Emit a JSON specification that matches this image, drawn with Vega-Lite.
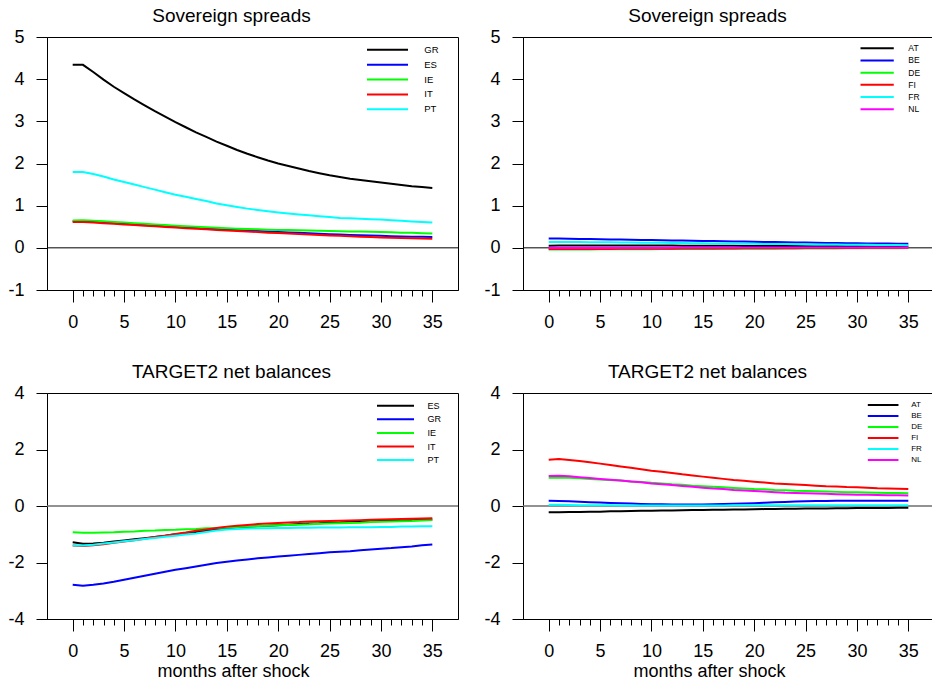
{
  "$schema": "https://vega.github.io/schema/vega-lite/v6.json",
  "background": "white",
  "padding": {"left": 7, "top": 6, "right": 0, "bottom": 0},
  "columns": 2,
  "spacing": {"row": 103, "column": 65},
  "bounds": "flush",
  "resolve": {
    "scale": {"color": "independent", "x": "independent", "y": "independent"},
    "legend": {"color": "independent"}
  },
  "config": {
    "font": "Liberation Sans",
    "view": {"stroke": "#000", "strokeWidth": 1},
    "axis": {
      "labelFont": "Liberation Sans", "labelFontSize": 18, "labelColor": "#000",
      "tickColor": "#000", "domainColor": "#000", "tickWidth": 1, "domainWidth": 1,
      "grid": false, "labelOverlap": false, "labelFlush": false,
      "titleFont": "Liberation Sans", "titleFontSize": 18, "titleFontWeight": "normal", "titleColor": "#000"
    },
    "title": {"font": "Liberation Sans", "fontSize": 19, "fontWeight": "normal", "color": "#000"},
    "legend": {
      "orient": "none", "title": null, "padding": 0,
      "symbolType": "M0,0H16", "symbolStrokeWidth": 2,
      "labelFont": "Liberation Sans", "labelColor": "#000"
    }
  },
  "datasets": {
    "sov_periph": [
      {"m": 0, "GR": 4.34, "ES": 0.63, "IE": 0.65, "IT": 0.61, "PT": 1.80},
      {"m": 1, "GR": 4.34, "ES": 0.635, "IE": 0.655, "IT": 0.615, "PT": 1.80},
      {"m": 2, "GR": 4.17, "ES": 0.62, "IE": 0.645, "IT": 0.60, "PT": 1.75},
      {"m": 3, "GR": 3.99, "ES": 0.605, "IE": 0.63, "IT": 0.585, "PT": 1.69},
      {"m": 4, "GR": 3.82, "ES": 0.59, "IE": 0.615, "IT": 0.57, "PT": 1.62},
      {"m": 5, "GR": 3.67, "ES": 0.575, "IE": 0.60, "IT": 0.555, "PT": 1.56},
      {"m": 6, "GR": 3.52, "ES": 0.56, "IE": 0.585, "IT": 0.54, "PT": 1.50},
      {"m": 7, "GR": 3.38, "ES": 0.545, "IE": 0.57, "IT": 0.525, "PT": 1.44},
      {"m": 8, "GR": 3.24, "ES": 0.53, "IE": 0.555, "IT": 0.51, "PT": 1.38},
      {"m": 9, "GR": 3.11, "ES": 0.515, "IE": 0.54, "IT": 0.495, "PT": 1.32},
      {"m": 10, "GR": 2.98, "ES": 0.50, "IE": 0.525, "IT": 0.48, "PT": 1.26},
      {"m": 11, "GR": 2.86, "ES": 0.49, "IE": 0.51, "IT": 0.465, "PT": 1.21},
      {"m": 12, "GR": 2.74, "ES": 0.475, "IE": 0.50, "IT": 0.45, "PT": 1.16},
      {"m": 13, "GR": 2.63, "ES": 0.46, "IE": 0.49, "IT": 0.44, "PT": 1.11},
      {"m": 14, "GR": 2.52, "ES": 0.45, "IE": 0.475, "IT": 0.425, "PT": 1.05},
      {"m": 15, "GR": 2.42, "ES": 0.435, "IE": 0.465, "IT": 0.41, "PT": 1.01},
      {"m": 16, "GR": 2.32, "ES": 0.425, "IE": 0.455, "IT": 0.40, "PT": 0.97},
      {"m": 17, "GR": 2.23, "ES": 0.41, "IE": 0.445, "IT": 0.385, "PT": 0.93},
      {"m": 18, "GR": 2.15, "ES": 0.40, "IE": 0.44, "IT": 0.375, "PT": 0.90},
      {"m": 19, "GR": 2.07, "ES": 0.385, "IE": 0.43, "IT": 0.36, "PT": 0.87},
      {"m": 20, "GR": 2.00, "ES": 0.375, "IE": 0.425, "IT": 0.35, "PT": 0.84},
      {"m": 21, "GR": 1.94, "ES": 0.365, "IE": 0.42, "IT": 0.34, "PT": 0.815},
      {"m": 22, "GR": 1.88, "ES": 0.355, "IE": 0.415, "IT": 0.33, "PT": 0.79},
      {"m": 23, "GR": 1.82, "ES": 0.345, "IE": 0.41, "IT": 0.315, "PT": 0.77},
      {"m": 24, "GR": 1.77, "ES": 0.335, "IE": 0.405, "IT": 0.305, "PT": 0.75},
      {"m": 25, "GR": 1.72, "ES": 0.325, "IE": 0.40, "IT": 0.295, "PT": 0.73},
      {"m": 26, "GR": 1.68, "ES": 0.315, "IE": 0.395, "IT": 0.285, "PT": 0.71},
      {"m": 27, "GR": 1.64, "ES": 0.305, "IE": 0.39, "IT": 0.275, "PT": 0.70},
      {"m": 28, "GR": 1.61, "ES": 0.30, "IE": 0.385, "IT": 0.265, "PT": 0.69},
      {"m": 29, "GR": 1.58, "ES": 0.29, "IE": 0.38, "IT": 0.255, "PT": 0.68},
      {"m": 30, "GR": 1.55, "ES": 0.285, "IE": 0.375, "IT": 0.245, "PT": 0.67},
      {"m": 31, "GR": 1.52, "ES": 0.275, "IE": 0.37, "IT": 0.24, "PT": 0.655},
      {"m": 32, "GR": 1.49, "ES": 0.27, "IE": 0.36, "IT": 0.235, "PT": 0.64},
      {"m": 33, "GR": 1.46, "ES": 0.265, "IE": 0.355, "IT": 0.225, "PT": 0.625},
      {"m": 34, "GR": 1.44, "ES": 0.26, "IE": 0.345, "IT": 0.22, "PT": 0.61},
      {"m": 35, "GR": 1.42, "ES": 0.255, "IE": 0.34, "IT": 0.215, "PT": 0.60}
    ],
    "sov_core": [
      {"m": 0, "AT": 0.05, "BE": 0.22, "DE": -0.04, "FI": -0.03, "FR": 0.14, "NL": 0.0},
      {"m": 1, "AT": 0.055, "BE": 0.22, "DE": -0.04, "FI": -0.03, "FR": 0.14, "NL": 0.0},
      {"m": 2, "AT": 0.055, "BE": 0.216, "DE": -0.039, "FI": -0.029, "FR": 0.138, "NL": 0.0},
      {"m": 3, "AT": 0.055, "BE": 0.212, "DE": -0.038, "FI": -0.028, "FR": 0.136, "NL": 0.0},
      {"m": 4, "AT": 0.055, "BE": 0.208, "DE": -0.037, "FI": -0.027, "FR": 0.134, "NL": 0.001},
      {"m": 5, "AT": 0.055, "BE": 0.204, "DE": -0.036, "FI": -0.026, "FR": 0.132, "NL": 0.001},
      {"m": 6, "AT": 0.055, "BE": 0.2, "DE": -0.035, "FI": -0.025, "FR": 0.13, "NL": 0.002},
      {"m": 7, "AT": 0.055, "BE": 0.196, "DE": -0.034, "FI": -0.024, "FR": 0.127, "NL": 0.002},
      {"m": 8, "AT": 0.055, "BE": 0.192, "DE": -0.033, "FI": -0.023, "FR": 0.125, "NL": 0.003},
      {"m": 9, "AT": 0.055, "BE": 0.188, "DE": -0.032, "FI": -0.022, "FR": 0.122, "NL": 0.003},
      {"m": 10, "AT": 0.055, "BE": 0.184, "DE": -0.031, "FI": -0.021, "FR": 0.12, "NL": 0.004},
      {"m": 11, "AT": 0.054, "BE": 0.18, "DE": -0.03, "FI": -0.02, "FR": 0.118, "NL": 0.004},
      {"m": 12, "AT": 0.053, "BE": 0.176, "DE": -0.029, "FI": -0.019, "FR": 0.115, "NL": 0.005},
      {"m": 13, "AT": 0.052, "BE": 0.172, "DE": -0.028, "FI": -0.018, "FR": 0.113, "NL": 0.005},
      {"m": 14, "AT": 0.051, "BE": 0.168, "DE": -0.027, "FI": -0.017, "FR": 0.11, "NL": 0.005},
      {"m": 15, "AT": 0.05, "BE": 0.164, "DE": -0.026, "FI": -0.016, "FR": 0.108, "NL": 0.006},
      {"m": 16, "AT": 0.049, "BE": 0.16, "DE": -0.025, "FI": -0.015, "FR": 0.105, "NL": 0.006},
      {"m": 17, "AT": 0.048, "BE": 0.156, "DE": -0.024, "FI": -0.014, "FR": 0.103, "NL": 0.006},
      {"m": 18, "AT": 0.047, "BE": 0.152, "DE": -0.023, "FI": -0.013, "FR": 0.1, "NL": 0.007},
      {"m": 19, "AT": 0.046, "BE": 0.148, "DE": -0.022, "FI": -0.012, "FR": 0.098, "NL": 0.007},
      {"m": 20, "AT": 0.045, "BE": 0.144, "DE": -0.021, "FI": -0.011, "FR": 0.095, "NL": 0.007},
      {"m": 21, "AT": 0.044, "BE": 0.14, "DE": -0.02, "FI": -0.01, "FR": 0.093, "NL": 0.008},
      {"m": 22, "AT": 0.043, "BE": 0.136, "DE": -0.019, "FI": -0.009, "FR": 0.09, "NL": 0.008},
      {"m": 23, "AT": 0.042, "BE": 0.132, "DE": -0.018, "FI": -0.008, "FR": 0.088, "NL": 0.008},
      {"m": 24, "AT": 0.041, "BE": 0.128, "DE": -0.017, "FI": -0.007, "FR": 0.085, "NL": 0.008},
      {"m": 25, "AT": 0.04, "BE": 0.124, "DE": -0.016, "FI": -0.006, "FR": 0.083, "NL": 0.009},
      {"m": 26, "AT": 0.039, "BE": 0.12, "DE": -0.015, "FI": -0.005, "FR": 0.081, "NL": 0.009},
      {"m": 27, "AT": 0.038, "BE": 0.117, "DE": -0.014, "FI": -0.004, "FR": 0.079, "NL": 0.009},
      {"m": 28, "AT": 0.037, "BE": 0.114, "DE": -0.013, "FI": -0.003, "FR": 0.077, "NL": 0.009},
      {"m": 29, "AT": 0.036, "BE": 0.111, "DE": -0.012, "FI": -0.002, "FR": 0.075, "NL": 0.01},
      {"m": 30, "AT": 0.035, "BE": 0.108, "DE": -0.011, "FI": -0.001, "FR": 0.073, "NL": 0.01},
      {"m": 31, "AT": 0.034, "BE": 0.105, "DE": -0.01, "FI": 0.0, "FR": 0.071, "NL": 0.01},
      {"m": 32, "AT": 0.033, "BE": 0.102, "DE": -0.009, "FI": 0.0, "FR": 0.069, "NL": 0.01},
      {"m": 33, "AT": 0.032, "BE": 0.1, "DE": -0.008, "FI": 0.0, "FR": 0.067, "NL": 0.01},
      {"m": 34, "AT": 0.031, "BE": 0.098, "DE": -0.007, "FI": 0.0, "FR": 0.065, "NL": 0.01},
      {"m": 35, "AT": 0.03, "BE": 0.096, "DE": -0.006, "FI": 0.0, "FR": 0.063, "NL": 0.01}
    ],
    "t2_periph": [
      {"m": 0, "ES": -1.28, "GR": -2.79, "IE": -0.93, "IT": -1.40, "PT": -1.40},
      {"m": 1, "ES": -1.34, "GR": -2.82, "IE": -0.95, "IT": -1.42, "PT": -1.40},
      {"m": 2, "ES": -1.33, "GR": -2.79, "IE": -0.95, "IT": -1.39, "PT": -1.37},
      {"m": 3, "ES": -1.30, "GR": -2.74, "IE": -0.94, "IT": -1.35, "PT": -1.33},
      {"m": 4, "ES": -1.26, "GR": -2.68, "IE": -0.93, "IT": -1.30, "PT": -1.29},
      {"m": 5, "ES": -1.22, "GR": -2.61, "IE": -0.91, "IT": -1.26, "PT": -1.25},
      {"m": 6, "ES": -1.18, "GR": -2.54, "IE": -0.90, "IT": -1.21, "PT": -1.21},
      {"m": 7, "ES": -1.14, "GR": -2.47, "IE": -0.88, "IT": -1.16, "PT": -1.17},
      {"m": 8, "ES": -1.10, "GR": -2.40, "IE": -0.87, "IT": -1.10, "PT": -1.13},
      {"m": 9, "ES": -1.05, "GR": -2.33, "IE": -0.85, "IT": -1.05, "PT": -1.09},
      {"m": 10, "ES": -1.00, "GR": -2.26, "IE": -0.84, "IT": -0.99, "PT": -1.05},
      {"m": 11, "ES": -0.96, "GR": -2.20, "IE": -0.82, "IT": -0.94, "PT": -1.01},
      {"m": 12, "ES": -0.92, "GR": -2.14, "IE": -0.81, "IT": -0.88, "PT": -0.97},
      {"m": 13, "ES": -0.88, "GR": -2.08, "IE": -0.79, "IT": -0.83, "PT": -0.92},
      {"m": 14, "ES": -0.84, "GR": -2.02, "IE": -0.78, "IT": -0.78, "PT": -0.87},
      {"m": 15, "ES": -0.80, "GR": -1.97, "IE": -0.76, "IT": -0.73, "PT": -0.83},
      {"m": 16, "ES": -0.77, "GR": -1.93, "IE": -0.74, "IT": -0.70, "PT": -0.81},
      {"m": 17, "ES": -0.74, "GR": -1.89, "IE": -0.73, "IT": -0.67, "PT": -0.80},
      {"m": 18, "ES": -0.72, "GR": -1.85, "IE": -0.71, "IT": -0.64, "PT": -0.79},
      {"m": 19, "ES": -0.70, "GR": -1.82, "IE": -0.70, "IT": -0.62, "PT": -0.79},
      {"m": 20, "ES": -0.68, "GR": -1.79, "IE": -0.68, "IT": -0.60, "PT": -0.78},
      {"m": 21, "ES": -0.66, "GR": -1.76, "IE": -0.67, "IT": -0.58, "PT": -0.78},
      {"m": 22, "ES": -0.64, "GR": -1.73, "IE": -0.66, "IT": -0.57, "PT": -0.77},
      {"m": 23, "ES": -0.62, "GR": -1.70, "IE": -0.65, "IT": -0.55, "PT": -0.77},
      {"m": 24, "ES": -0.61, "GR": -1.67, "IE": -0.63, "IT": -0.54, "PT": -0.76},
      {"m": 25, "ES": -0.59, "GR": -1.64, "IE": -0.62, "IT": -0.53, "PT": -0.76},
      {"m": 26, "ES": -0.58, "GR": -1.62, "IE": -0.61, "IT": -0.52, "PT": -0.76},
      {"m": 27, "ES": -0.56, "GR": -1.60, "IE": -0.60, "IT": -0.51, "PT": -0.75},
      {"m": 28, "ES": -0.55, "GR": -1.57, "IE": -0.59, "IT": -0.50, "PT": -0.75},
      {"m": 29, "ES": -0.54, "GR": -1.54, "IE": -0.57, "IT": -0.49, "PT": -0.75},
      {"m": 30, "ES": -0.53, "GR": -1.51, "IE": -0.56, "IT": -0.48, "PT": -0.74},
      {"m": 31, "ES": -0.52, "GR": -1.49, "IE": -0.55, "IT": -0.47, "PT": -0.74},
      {"m": 32, "ES": -0.51, "GR": -1.46, "IE": -0.54, "IT": -0.46, "PT": -0.73},
      {"m": 33, "ES": -0.50, "GR": -1.43, "IE": -0.53, "IT": -0.45, "PT": -0.73},
      {"m": 34, "ES": -0.49, "GR": -1.39, "IE": -0.51, "IT": -0.44, "PT": -0.72},
      {"m": 35, "ES": -0.48, "GR": -1.36, "IE": -0.50, "IT": -0.43, "PT": -0.72}
    ],
    "t2_core": [
      {"m": 0, "AT": -0.22, "BE": 0.19, "DE": 1.00, "FI": 1.64, "FR": 0.04, "NL": 1.06},
      {"m": 1, "AT": -0.22, "BE": 0.18, "DE": 1.01, "FI": 1.66, "FR": 0.04, "NL": 1.07},
      {"m": 2, "AT": -0.215, "BE": 0.165, "DE": 1.00, "FI": 1.63, "FR": 0.035, "NL": 1.05},
      {"m": 3, "AT": -0.21, "BE": 0.15, "DE": 0.98, "FI": 1.59, "FR": 0.03, "NL": 1.02},
      {"m": 4, "AT": -0.205, "BE": 0.135, "DE": 0.96, "FI": 1.55, "FR": 0.03, "NL": 0.99},
      {"m": 5, "AT": -0.20, "BE": 0.12, "DE": 0.94, "FI": 1.50, "FR": 0.025, "NL": 0.96},
      {"m": 6, "AT": -0.19, "BE": 0.105, "DE": 0.92, "FI": 1.45, "FR": 0.025, "NL": 0.93},
      {"m": 7, "AT": -0.185, "BE": 0.095, "DE": 0.90, "FI": 1.40, "FR": 0.02, "NL": 0.90},
      {"m": 8, "AT": -0.18, "BE": 0.085, "DE": 0.87, "FI": 1.35, "FR": 0.02, "NL": 0.87},
      {"m": 9, "AT": -0.17, "BE": 0.075, "DE": 0.85, "FI": 1.30, "FR": 0.02, "NL": 0.84},
      {"m": 10, "AT": -0.165, "BE": 0.065, "DE": 0.82, "FI": 1.25, "FR": 0.02, "NL": 0.80},
      {"m": 11, "AT": -0.16, "BE": 0.06, "DE": 0.80, "FI": 1.21, "FR": 0.02, "NL": 0.77},
      {"m": 12, "AT": -0.155, "BE": 0.055, "DE": 0.77, "FI": 1.17, "FR": 0.02, "NL": 0.74},
      {"m": 13, "AT": -0.15, "BE": 0.05, "DE": 0.75, "FI": 1.12, "FR": 0.02, "NL": 0.71},
      {"m": 14, "AT": -0.145, "BE": 0.05, "DE": 0.72, "FI": 1.08, "FR": 0.02, "NL": 0.68},
      {"m": 15, "AT": -0.14, "BE": 0.055, "DE": 0.70, "FI": 1.04, "FR": 0.02, "NL": 0.65},
      {"m": 16, "AT": -0.135, "BE": 0.06, "DE": 0.68, "FI": 1.00, "FR": 0.02, "NL": 0.62},
      {"m": 17, "AT": -0.13, "BE": 0.07, "DE": 0.66, "FI": 0.96, "FR": 0.02, "NL": 0.60},
      {"m": 18, "AT": -0.125, "BE": 0.08, "DE": 0.64, "FI": 0.92, "FR": 0.025, "NL": 0.57},
      {"m": 19, "AT": -0.12, "BE": 0.09, "DE": 0.62, "FI": 0.89, "FR": 0.025, "NL": 0.55},
      {"m": 20, "AT": -0.115, "BE": 0.10, "DE": 0.60, "FI": 0.86, "FR": 0.025, "NL": 0.53},
      {"m": 21, "AT": -0.11, "BE": 0.115, "DE": 0.59, "FI": 0.83, "FR": 0.025, "NL": 0.51},
      {"m": 22, "AT": -0.105, "BE": 0.13, "DE": 0.57, "FI": 0.80, "FR": 0.03, "NL": 0.49},
      {"m": 23, "AT": -0.10, "BE": 0.145, "DE": 0.56, "FI": 0.78, "FR": 0.03, "NL": 0.47},
      {"m": 24, "AT": -0.095, "BE": 0.16, "DE": 0.54, "FI": 0.76, "FR": 0.03, "NL": 0.46},
      {"m": 25, "AT": -0.09, "BE": 0.17, "DE": 0.53, "FI": 0.74, "FR": 0.03, "NL": 0.45},
      {"m": 26, "AT": -0.09, "BE": 0.175, "DE": 0.52, "FI": 0.72, "FR": 0.03, "NL": 0.44},
      {"m": 27, "AT": -0.085, "BE": 0.18, "DE": 0.51, "FI": 0.70, "FR": 0.03, "NL": 0.43},
      {"m": 28, "AT": -0.08, "BE": 0.185, "DE": 0.50, "FI": 0.69, "FR": 0.03, "NL": 0.42},
      {"m": 29, "AT": -0.08, "BE": 0.19, "DE": 0.49, "FI": 0.67, "FR": 0.03, "NL": 0.41},
      {"m": 30, "AT": -0.075, "BE": 0.19, "DE": 0.49, "FI": 0.66, "FR": 0.03, "NL": 0.40},
      {"m": 31, "AT": -0.075, "BE": 0.19, "DE": 0.48, "FI": 0.65, "FR": 0.03, "NL": 0.40},
      {"m": 32, "AT": -0.07, "BE": 0.19, "DE": 0.47, "FI": 0.63, "FR": 0.03, "NL": 0.39},
      {"m": 33, "AT": -0.07, "BE": 0.19, "DE": 0.46, "FI": 0.62, "FR": 0.03, "NL": 0.38},
      {"m": 34, "AT": -0.065, "BE": 0.19, "DE": 0.46, "FI": 0.61, "FR": 0.03, "NL": 0.38},
      {"m": 35, "AT": -0.065, "BE": 0.19, "DE": 0.45, "FI": 0.60, "FR": 0.03, "NL": 0.37}
    ]
  },
  "concat": [
    {
      "width": 411, "height": 253,
      "title": {"text": "Sovereign spreads", "anchor": "middle", "frame": "group", "dx": -21, "offset": -13, "baseline": "alphabetic"},
      "layer": [
        {
          "data": {"values": [{"value": 0}]},
          "mark": {"type": "rule", "color": "#000", "strokeWidth": 1},
          "encoding": {"y": {"field": "value", "type": "quantitative", "title": null, "scale": {"domain": [-1, 5], "nice": false, "zero": false}}}
        },
        {
          "data": {"name": "sov_periph"},
          "transform": [{"fold": ["GR", "ES", "IE", "IT", "PT"], "as": ["country", "value"]}],
          "mark": {"type": "line", "strokeWidth": 2},
          "encoding": {
            "x": {"field": "m", "type": "quantitative", "title": null,
              "scale": {"domain": [-2.5, 37.5], "nice": false, "zero": false},
              "axis": {"values": [0,1,2,3,4,5,6,7,8,9,10,11,12,13,14,15,16,17,18,19,20,21,22,23,24,25,26,27,28,29,30,31,32,33,34,35],
                "tickSize": {"condition": {"test": "datum.value % 5 === 0", "value": 12}, "value": 6},
                "labelExpr": "datum.value % 5 === 0 ? datum.label : ''", "labelPadding": 11}},
            "y": {"field": "value", "type": "quantitative", "title": null,
              "scale": {"domain": [-1, 5], "nice": false, "zero": false},
              "axis": {"values": [-1, 0, 1, 2, 3, 4, 5], "tickSize": 11, "labelPadding": 12,
                "labelExpr": "'' + datum.value"}},
            "color": {"field": "country", "type": "nominal",
              "scale": {"domain": ["GR", "ES", "IE", "IT", "PT"], "range": ["#000000", "#0000ff", "#00ff00", "#ff0000", "#00ffff"]},
              "legend": {"legendX": 320, "legendY": 8, "symbolSize": 26.3, "symbolOffset": -4.75, "labelFontSize": 9.5, "labelOffset": 52.5, "rowPadding": 3.9}}
          }
        }
      ]
    },
    {
      "width": 411, "height": 253,
      "title": {"text": "Sovereign spreads", "anchor": "middle", "frame": "group", "dx": -21, "offset": -13, "baseline": "alphabetic"},
      "layer": [
        {
          "data": {"values": [{"value": 0}]},
          "mark": {"type": "rule", "color": "#000", "strokeWidth": 1},
          "encoding": {"y": {"field": "value", "type": "quantitative", "title": null, "scale": {"domain": [-1, 5], "nice": false, "zero": false}}}
        },
        {
          "data": {"name": "sov_core"},
          "transform": [{"fold": ["AT", "BE", "DE", "FI", "FR", "NL"], "as": ["country", "value"]}],
          "mark": {"type": "line", "strokeWidth": 2},
          "encoding": {
            "x": {"field": "m", "type": "quantitative", "title": null,
              "scale": {"domain": [-2.5, 37.5], "nice": false, "zero": false},
              "axis": {"values": [0,1,2,3,4,5,6,7,8,9,10,11,12,13,14,15,16,17,18,19,20,21,22,23,24,25,26,27,28,29,30,31,32,33,34,35],
                "tickSize": {"condition": {"test": "datum.value % 5 === 0", "value": 12}, "value": 6},
                "labelExpr": "datum.value % 5 === 0 ? datum.label : ''", "labelPadding": 11}},
            "y": {"field": "value", "type": "quantitative", "title": null,
              "scale": {"domain": [-1, 5], "nice": false, "zero": false},
              "axis": {"values": [-1, 0, 1, 2, 3, 4, 5], "tickSize": 11, "labelPadding": 12,
                "labelExpr": "'' + datum.value"}},
            "color": {"field": "country", "type": "nominal",
              "scale": {"domain": ["AT", "BE", "DE", "FI", "FR", "NL"], "range": ["#000000", "#0000ff", "#00ff00", "#ff0000", "#00ffff", "#ff00ff"]},
              "legend": {"legendX": 337.5, "legendY": 7, "symbolSize": 17.3, "symbolOffset": -4.25, "labelFontSize": 8.5, "labelOffset": 43.6, "rowPadding": 3.2}}
          }
        }
      ]
    },
    {
      "width": 411, "height": 226,
      "title": {"text": "TARGET2 net balances", "anchor": "middle", "frame": "group", "dx": -21, "offset": -13, "baseline": "alphabetic"},
      "layer": [
        {
          "data": {"values": [{"value": 0}]},
          "mark": {"type": "rule", "color": "#6e6e6e", "strokeWidth": 1.5},
          "encoding": {"y": {"field": "value", "type": "quantitative", "title": null, "scale": {"domain": [-4, 4], "nice": false, "zero": false}}}
        },
        {
          "data": {"name": "t2_periph"},
          "transform": [{"fold": ["ES", "GR", "IE", "IT", "PT"], "as": ["country", "value"]}],
          "mark": {"type": "line", "strokeWidth": 2},
          "encoding": {
            "x": {"field": "m", "type": "quantitative", "title": "months after shock",
              "scale": {"domain": [-2.5, 37.5], "nice": false, "zero": false},
              "axis": {"values": [0,1,2,3,4,5,6,7,8,9,10,11,12,13,14,15,16,17,18,19,20,21,22,23,24,25,26,27,28,29,30,31,32,33,34,35],
                "tickSize": {"condition": {"test": "datum.value % 5 === 0", "value": 12}, "value": 6},
                "labelExpr": "datum.value % 5 === 0 ? datum.label : ''", "labelPadding": 11,
                "titleX": 186, "titleY": 57, "titleBaseline": "alphabetic", "titleAlign": "center"}},
            "y": {"field": "value", "type": "quantitative", "title": null,
              "scale": {"domain": [-4, 4], "nice": false, "zero": false},
              "axis": {"values": [-4, -3, -2, -1, 0, 1, 2, 3, 4], "tickSize": 11, "labelPadding": 12,
                "labelExpr": "datum.value % 2 === 0 ? '' + datum.value : ''"}},
            "color": {"field": "country", "type": "nominal",
              "scale": {"domain": ["ES", "GR", "IE", "IT", "PT"], "range": ["#000000", "#0000ff", "#00ff00", "#ff0000", "#00ffff"]},
              "legend": {"legendX": 330, "legendY": 8.2, "symbolSize": 21.4, "symbolOffset": -4.5, "labelFontSize": 9, "labelOffset": 46, "rowPadding": 3.6}}
          }
        }
      ]
    },
    {
      "width": 411, "height": 226,
      "title": {"text": "TARGET2 net balances", "anchor": "middle", "frame": "group", "dx": -21, "offset": -13, "baseline": "alphabetic"},
      "layer": [
        {
          "data": {"values": [{"value": 0}]},
          "mark": {"type": "rule", "color": "#6e6e6e", "strokeWidth": 1.5},
          "encoding": {"y": {"field": "value", "type": "quantitative", "title": null, "scale": {"domain": [-4, 4], "nice": false, "zero": false}}}
        },
        {
          "data": {"name": "t2_core"},
          "transform": [{"fold": ["AT", "BE", "DE", "FI", "FR", "NL"], "as": ["country", "value"]}],
          "mark": {"type": "line", "strokeWidth": 2},
          "encoding": {
            "x": {"field": "m", "type": "quantitative", "title": "months after shock",
              "scale": {"domain": [-2.5, 37.5], "nice": false, "zero": false},
              "axis": {"values": [0,1,2,3,4,5,6,7,8,9,10,11,12,13,14,15,16,17,18,19,20,21,22,23,24,25,26,27,28,29,30,31,32,33,34,35],
                "tickSize": {"condition": {"test": "datum.value % 5 === 0", "value": 12}, "value": 6},
                "labelExpr": "datum.value % 5 === 0 ? datum.label : ''", "labelPadding": 11,
                "titleX": 186, "titleY": 57, "titleBaseline": "alphabetic", "titleAlign": "center"}},
            "y": {"field": "value", "type": "quantitative", "title": null,
              "scale": {"domain": [-4, 4], "nice": false, "zero": false},
              "axis": {"values": [-4, -3, -2, -1, 0, 1, 2, 3, 4], "tickSize": 11, "labelPadding": 12,
                "labelExpr": "datum.value % 2 === 0 ? '' + datum.value : ''"}},
            "color": {"field": "country", "type": "nominal",
              "scale": {"domain": ["AT", "BE", "DE", "FI", "FR", "NL"], "range": ["#000000", "#0000ff", "#00ff00", "#ff0000", "#00ffff", "#ff00ff"]},
              "legend": {"legendX": 344.8, "legendY": 8, "symbolSize": 14.7, "symbolOffset": -4, "labelFontSize": 8, "labelOffset": 39.4, "rowPadding": 3.0}}
          }
        }
      ]
    }
  ]
}
